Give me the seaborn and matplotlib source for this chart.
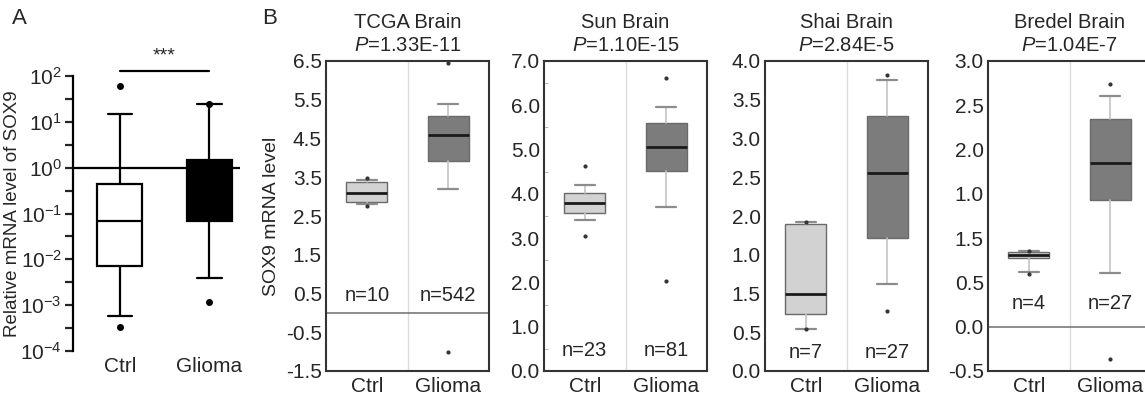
import matplotlib
matplotlib.use("Agg")
import matplotlib.pyplot as plt
import seaborn as sns
import numpy as np
from matplotlib import font_manager
from matplotlib.ticker import FixedLocator, NullFormatter

#------------- data -------------

groups = ["Ctrl", "Glioma"]

# panel A: qPCR, log scale (whislo, q1, med, q3, whishi)
a_stats = [
    [5.9e-4, 0.007, 0.07, 0.45, 14.7],
    [0.004, 0.07, 0.3, 1.5, 24.5],
]
a_fliers = [[60, 3.4e-4], [25, 0.0012]]

# panel B: datasets
datasets = ["TCGA Brain", "Sun Brain", "Shai Brain", "Bredel Brain"]
pvalues = ["1.33E-11", "1.10E-15", "2.84E-5", "1.04E-7"]
n_ctrl = [10, 23, 7, 4]
n_glioma = [542, 81, 27, 27]

ctrl_stats = [
    [2.82, 2.85, 3.10, 3.37, 3.42],
    [3.41, 3.56, 3.80, 4.03, 4.19],
    [0.54, 0.73, 1.00, 1.90, 1.92],
    [0.62, 0.78, 0.81, 0.84, 0.85],
]
ctrl_fliers = [[3.47, 2.75], [4.63, 3.04], [1.92, 0.54], [0.86, 0.60]]

glioma_stats = [
    [3.20, 3.91, 4.58, 5.08, 5.40],
    [3.71, 4.52, 5.06, 5.59, 5.97],
    [1.12, 1.72, 2.55, 3.29, 3.76],
    [0.61, 1.43, 1.85, 2.34, 2.61],
]
glioma_fliers = [[6.44, -1.01], [6.62, 2.03], [3.82, 0.78], [2.74, -0.36]]

ylims = [(-1.5, 6.5), (0.0, 7.0), (0.0, 4.0), (-0.5, 3.0)]
tick_pos = [
    [6.5, 5.5, 4.5, 3.5, 2.5, 1.5, 0.5, -0.5, -1.5],
    [7.0, 6.0, 5.0, 4.0, 3.0, 2.0, 1.0, 0.0],
    [4.0, 3.5, 3.0, 2.5, 2.0, 1.5, 1.0, 0.5, 0.0],
    [3.0, 2.5, 2.0, 1.5, 1.0, 0.5, 0.0, -0.5],
]
tick_labels = [
    ["6.5", "5.5", "4.5", "3.5", "2.5", "1.5", "0.5", "-0.5", "-1.5"],
    ["7.0", "6.0", "5.0", "4.0", "3.0", "2.0", "1.0", "0.0"],
    ["4.0", "3.5", "3.0", "2.5", "2.0", "1.0", "1.5", "0.5", "0.0"],
    ["3.0", "2.5", "2.0", "1.0", "1.5", "0.5", "0.0", "-0.5"],
]
n_text_y = [0.46, 0.47, 0.24, 0.26]
zero_line = [True, False, False, True]

#------------- style -------------

sns.set_style("white")
names = {f.name for f in font_manager.fontManager.ttflist}
fam = "Liberation Sans Narrow" if "Liberation Sans Narrow" in names else "Liberation Sans"
plt.rcParams["font.family"] = [fam, "DejaVu Sans"]
plt.rcParams["mathtext.fontset"] = "custom"
plt.rcParams["mathtext.rm"] = fam
plt.rcParams["mathtext.it"] = fam + ":italic"


def to_bxp(stats, fliers):
    out = []
    for s, f in zip(stats, fliers):
        out.append(dict(whislo=s[0], q1=s[1], med=s[2], q3=s[3], whishi=s[4], fliers=f))
    return out


fig = plt.figure(figsize=(11.45, 4.04), dpi=100)
W, H = 1145, 404


def add_axes(left, top, width, height):
    return fig.add_axes([left / W, 1 - (top + height) / H, width / W, height / H])


#------------- panel A -------------

axA = add_axes(73, 76, 167, 275)
axA.set_yscale("log")
bxA = axA.bxp(to_bxp(a_stats, a_fliers), positions=[0, 1], widths=0.5, capwidths=0.27,
              patch_artist=True, showfliers=True,
              boxprops=dict(linewidth=1.6, edgecolor="black"),
              whiskerprops=dict(color="black", linewidth=1.6),
              capprops=dict(color="black", linewidth=1.6),
              medianprops=dict(color="black", linewidth=1.6),
              flierprops=dict(marker="o", markersize=4, markerfacecolor="black",
                              markeredgecolor="black"))
bxA["boxes"][0].set_facecolor("white")
bxA["boxes"][1].set_facecolor("black")
axA.axhline(1, color="black", lw=1.6, zorder=3)
axA.set_ylim(1e-4, 1e2)
axA.set_xlim(-0.52, 1.34)
axA.set_yticks([10.0 ** k for k in range(-4, 3)])
axA.set_yticklabels([f"$10^{{{k}}}$" for k in range(-4, 3)])
axA.yaxis.set_minor_locator(FixedLocator([10.0 ** (k + 0.5) for k in range(-4, 2)]))
axA.yaxis.set_minor_formatter(NullFormatter())
axA.tick_params(axis="y", which="major", direction="out", length=6, width=1.6,
                labelsize=15, left=True, pad=2)
axA.tick_params(axis="y", which="minor", direction="out", length=6, width=1.6, left=True)
axA.set_xticks([0, 1])
axA.set_xticklabels(groups, fontsize=15)
axA.tick_params(axis="x", length=0, pad=4)
for s in ["top", "right", "bottom"]:
    axA.spines[s].set_visible(False)
axA.spines["left"].set_linewidth(1.6)
axA.spines["left"].set_color("black")
axA.set_ylabel("Relative mRNA level of SOX9", fontsize=13.5)
axA.yaxis.set_label_coords(-0.31, 0.5)
axA.plot([0, 1], [130, 130], color="black", lw=1.6, clip_on=False)
axA.text(0.5, 180, "***", ha="center", va="bottom", fontsize=14, clip_on=False)
fig.text(12 / W, 1 - 18 / H, "A", fontsize=16, va="center")
fig.text(262 / W, 1 - 18 / H, "B", fontsize=16, va="center")

#------------- panel B -------------

lefts = [326, 544, 765, 988]
for i in range(4):
    ax = add_axes(lefts[i], 61, 163, 310)
    st = to_bxp([ctrl_stats[i], glioma_stats[i]], [ctrl_fliers[i], glioma_fliers[i]])
    bx = ax.bxp(st, positions=[0, 1], widths=0.5, patch_artist=True,
                boxprops=dict(linewidth=1.0, edgecolor="#6a6a6a"),
                whiskerprops=dict(color="#c4c4c4", linewidth=1.2),
                capprops=dict(color="#8c8c8c", linewidth=1.6),
                medianprops=dict(color="#1a1a1a", linewidth=2.0),
                flierprops=dict(marker="o", markersize=2, markerfacecolor="#333333",
                                markeredgecolor="#333333"))
    bx["boxes"][0].set_facecolor("#d2d2d2")
    bx["boxes"][1].set_facecolor("#7c7c7c")
    ax.axvline(0.5, color="#dcdcdc", lw=1.0, zorder=0)
    if zero_line[i]:
        ax.axhline(0, color="#6e6e6e", lw=1.1, zorder=1)
    ax.set_xlim(-0.5, 1.5)
    ax.set_ylim(*ylims[i])
    ax.set_yticks(tick_pos[i])
    ax.set_yticklabels(tick_labels[i], fontsize=15)
    ax.tick_params(axis="y", length=0, pad=3)
    if i == 1:
        # faint inner minor ticks on the Sun panel
        ax.yaxis.set_minor_locator(FixedLocator(np.arange(0.5, 7.0, 0.5)))
        ax.tick_params(axis="y", which="minor", direction="in", length=3,
                       width=0.8, color="#bbbbbb", left=True)
    ax.set_xticks([0, 1])
    ax.set_xticklabels(groups, fontsize=15)
    ax.tick_params(axis="x", length=0, pad=4)
    for s in ax.spines.values():
        s.set_linewidth(1.5)
        s.set_color("#333333")
    ax.text(0, n_text_y[i], f"n={n_ctrl[i]}", ha="center", va="center", fontsize=14.5)
    ax.text(1, n_text_y[i], f"n={n_glioma[i]}", ha="center", va="center", fontsize=14.5)
    ax.set_title(datasets[i] + "\n" + r"$\it{P}$=" + pvalues[i], fontsize=14.5,
                 linespacing=1.3, pad=7)
    if i == 0:
        ax.set_ylabel("SOX9 mRNA level", fontsize=14, labelpad=4)

fig.savefig("out.png", dpi=100)
